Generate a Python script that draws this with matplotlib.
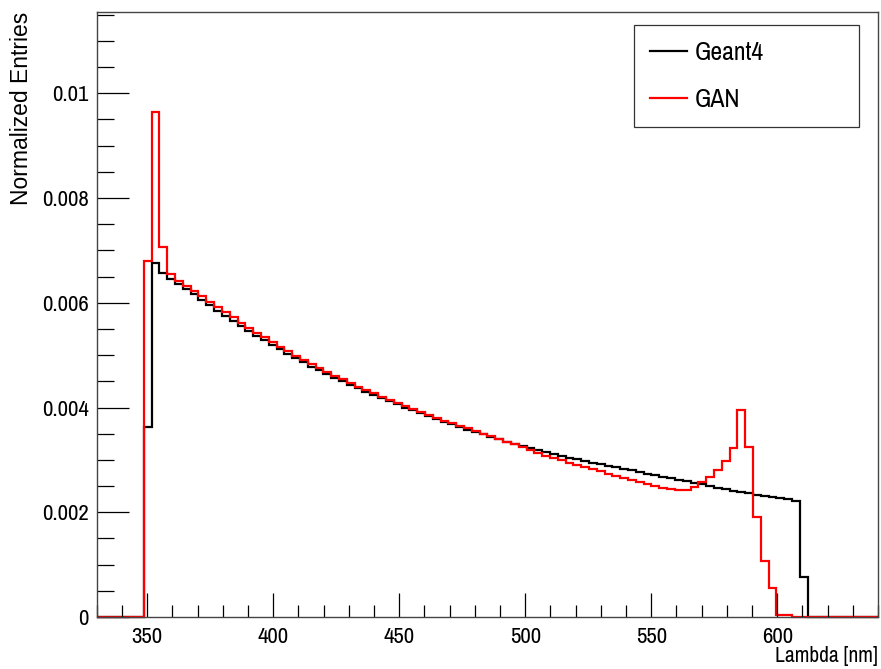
import numpy as np
import matplotlib.pyplot as plt
from matplotlib.ticker import MultipleLocator, FixedLocator

plt.rcParams['font.family'] = ['Archivo Narrow', 'Roboto Condensed', 'Liberation Sans', 'DejaVu Sans']

# histogram binning: 100 bins from 330 to 640 nm
bin_lo, bin_hi, n_bins = 330.0, 640.0, 100
first_bin = 6  # first non-empty bin

geant4 = [0.00363, 0.00675, 0.00657, 0.00645, 0.00636, 0.00626, 0.00616, 0.00605,
          0.00595, 0.00585, 0.00575, 0.00565, 0.00556, 0.00546, 0.00537, 0.00528,
          0.00519, 0.00511, 0.00502, 0.00494, 0.00486, 0.00478, 0.00471, 0.00464,
          0.00457, 0.00450, 0.00443, 0.00437, 0.00430, 0.00424, 0.00418, 0.00412,
          0.00406, 0.00400, 0.00395, 0.00389, 0.00384, 0.00378, 0.00373, 0.00368,
          0.00363, 0.00358, 0.00353, 0.00349, 0.00344, 0.00340, 0.00335, 0.00331,
          0.00327, 0.00323, 0.00319, 0.00315, 0.00311, 0.00308, 0.00304, 0.00301,
          0.00298, 0.00295, 0.00292, 0.00289, 0.00286, 0.00283, 0.00280, 0.00277,
          0.00274, 0.00271, 0.00268, 0.00265, 0.00262, 0.00259, 0.00256, 0.00253,
          0.00250, 0.00247, 0.00244, 0.00241, 0.00238, 0.00236, 0.00233, 0.00231,
          0.00229, 0.00227, 0.00225, 0.00222, 0.00077]

gan = [0.00680, 0.00964, 0.00706, 0.00655, 0.00642, 0.00632, 0.00622, 0.00612,
       0.00602, 0.00592, 0.00582, 0.00572, 0.00562, 0.00552, 0.00543, 0.00534,
       0.00525, 0.00516, 0.00507, 0.00499, 0.00491, 0.00483, 0.00475, 0.00468,
       0.00461, 0.00454, 0.00447, 0.00440, 0.00433, 0.00427, 0.00421, 0.00415,
       0.00409, 0.00403, 0.00397, 0.00391, 0.00386, 0.00380, 0.00375, 0.00370,
       0.00365, 0.00360, 0.00355, 0.00350, 0.00345, 0.00340, 0.00335, 0.00330,
       0.00325, 0.00318, 0.00313, 0.00308, 0.00303, 0.00299, 0.00295, 0.00291,
       0.00287, 0.00283, 0.00278, 0.00274, 0.00270, 0.00266, 0.00262, 0.00258,
       0.00254, 0.00250, 0.00247, 0.00245, 0.00243, 0.00243, 0.00248, 0.00258,
       0.00267, 0.00281, 0.00298, 0.00323, 0.00396, 0.00324, 0.00190, 0.00107,
       0.00055, 0.00003, 0.00003]

x_ticks = [350, 400, 450, 500, 550, 600]
y_ticks = [0, 0.002, 0.004, 0.006, 0.008, 0.01]
y_tick_labels = ['0', '0.002', '0.004', '0.006', '0.008', '0.01']

edges = np.linspace(bin_lo, bin_hi, n_bins + 1)


def full_hist(vals):
    h = np.zeros(n_bins)
    h[first_bin:first_bin + len(vals)] = vals
    return h


fig = plt.figure(figsize=(8.81, 6.69), dpi=100)
ax = fig.add_axes([0.110, 0.0777, 0.8866, 0.9043])

ax.stairs(full_hist(geant4), edges, color='black', lw=1.6, label='Geant4', clip_on=False)
ax.stairs(full_hist(gan), edges, color='#ff0000', lw=1.6, label='GAN', clip_on=False)

ax.set_xlim(bin_lo, bin_hi)
ax.set_ylim(0, 0.01155)

ax.xaxis.set_major_locator(FixedLocator(x_ticks))
ax.xaxis.set_minor_locator(MultipleLocator(10))
ax.yaxis.set_major_locator(FixedLocator(y_ticks))
ax.set_yticklabels(y_tick_labels)
ax.yaxis.set_minor_locator(MultipleLocator(0.0005))

ax.tick_params(which='both', direction='in', top=False, right=False, labelsize=16.5, width=0.9)
ax.tick_params(axis='x', which='major', length=17, pad=7)
ax.tick_params(axis='x', which='minor', length=9)
ax.tick_params(axis='y', which='major', length=23, pad=6)
ax.tick_params(axis='y', which='minor', length=12)

for s in ax.spines.values():
    s.set_linewidth(1.0)
    s.set_color('#444444')

fig.text(0.9966, 0.004, 'Lambda [nm]', ha='right', va='bottom', fontsize=15.5)
fig.text(0.024, 0.982, 'Normalized Entries', ha='center', va='top', rotation=90, fontsize=16.5,
         family=['Liberation Sans', 'DejaVu Sans'])

leg = ax.legend(loc='upper left', bbox_to_anchor=(0.6876, 0.9785, 0.2881, 0.0), mode='expand',
                frameon=True, fancybox=False, fontsize=18.5, handlelength=1.45, handletextpad=0.3,
                borderpad=0.62, labelspacing=0.92, borderaxespad=0)
leg.get_frame().set_edgecolor('black')
leg.get_frame().set_linewidth(0.9)
for line in leg.get_lines():
    line.set_linewidth(1.6)

fig.savefig('out.png', dpi=100)
